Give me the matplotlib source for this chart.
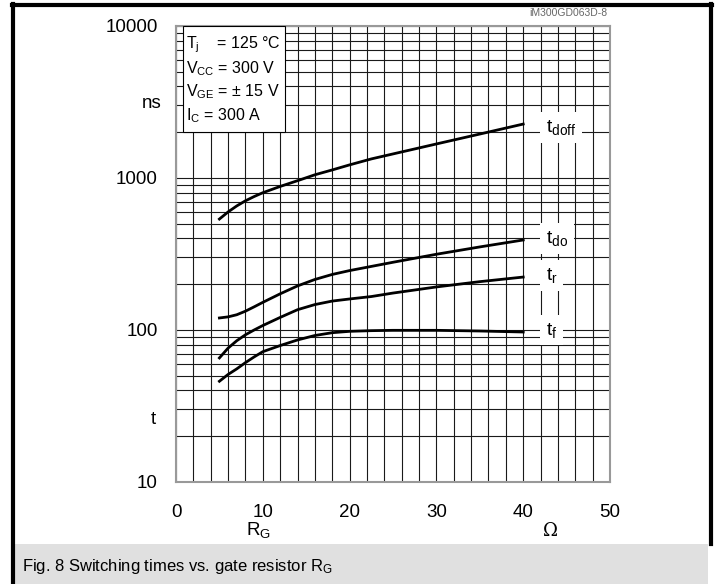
import numpy as np
import matplotlib
matplotlib.use('Agg')
import matplotlib.pyplot as plt
from matplotlib.patches import Rectangle
from matplotlib.lines import Line2D

plt.rcParams['font.family'] = ['Liberation Sans', 'DejaVu Sans']
plt.rcParams['mathtext.fontset'] = 'custom'
plt.rcParams['mathtext.rm'] = 'Liberation Sans'
plt.rcParams['mathtext.it'] = 'Liberation Sans:italic'

# switching times (R_G in ohm, t in ns)
rg = [5, 6, 7, 8, 9, 10, 12, 14, 16, 18, 20, 22.5, 25, 30, 35, 40]
t_doff = [537, 598, 655, 708, 755, 800, 880, 960, 1050, 1130, 1220, 1335, 1440, 1675, 1946, 2264]
t_do = [120, 122, 126, 133, 142, 152, 173, 195, 215, 232, 246, 262, 279, 315, 352, 391]
t_r = [65.5, 76, 85, 93, 100, 107, 121, 136, 147, 155, 160, 166, 175, 192, 208, 223]
t_f = [46, 51, 55.5, 61, 66.5, 72, 79, 86, 92, 96, 98, 99, 99.5, 99.5, 98.5, 97]

curve_names = [r'$\mathrm{t_{doff}}$', r'$\mathrm{t_{do}}$', r'$\mathrm{t_r}$', r'$\mathrm{t_f}$']
label_y = [2150, 400, 228, 100]

conditions = [r'$\mathrm{T_j}$    = 125 °C',
              r'$\mathrm{V_{CC}}$ = 300 V',
              r'$\mathrm{V_{GE}}$ = ± 15 V',
              r'$\mathrm{I_C}$ = 300 A']

fig = plt.figure(figsize=(7.16, 5.84), dpi=100)
W, H = 716, 584

# outer frame and caption band
fig.add_artist(Line2D([13 / W, 13 / W], [0, 1 - 4 / H], color='black', lw=3))
fig.add_artist(Line2D([12 / W, 712 / W], [1 - 5 / H, 1 - 5 / H], color='black', lw=3))
fig.add_artist(Line2D([711 / W, 711 / W], [1 - 4 / H, 1 - 544 / H], color='black', lw=3))
fig.add_artist(Rectangle((14 / W, 0), 694 / W, 40 / H, facecolor='#e0e0e0',
                         edgecolor='none'))
fig.text(22 / W, 1 - 566 / H, r'Fig. 8 Switching times vs. gate resistor R$_\mathrm{G}$',
         fontsize=12, va='center', ha='left')

ax = fig.add_axes([176 / W, 1 - 482 / H, 434 / W, 456 / H])
ax.set_yscale('log')
ax.set_xlim(0, 50)
ax.set_ylim(10, 10000)
ax.set_xticks(range(0, 51, 10))
ax.set_xticks(range(0, 51, 2), minor=True)
ax.set_yticks([10, 100, 1000, 10000])
ax.set_yticklabels(['10', '100', '1000', '10000'])
ax.grid(True, which='both', color='#1a1a1a', lw=0.8)
ax.tick_params(which='both', length=0)
ax.tick_params(axis='x', pad=16, labelsize=13.5)
ax.tick_params(axis='y', pad=13, labelsize=13.5)
ax.minorticks_on()
ax.yaxis.set_minor_formatter(matplotlib.ticker.NullFormatter())
for s in ax.spines.values():
    s.set_color('#999999')
    s.set_linewidth(1.5)
ax.set_axisbelow(True)

for ys in [t_doff, t_do, t_r, t_f]:
    ax.plot(rg, ys, color='black', lw=2, zorder=3)

for name, yv in zip(curve_names, label_y):
    ax.text(42.6, yv, name, fontsize=14, va='center', ha='left', zorder=4,
            bbox=dict(facecolor='white', edgecolor='none', pad=4))

# condition box
ax.add_patch(Rectangle((0.8, 10 ** (4 - 106 / 152)), 11.8, 10000 - 10 ** (4 - 106 / 152),
                       facecolor='white', edgecolor='black', lw=0.8, zorder=4))
for i, line in enumerate(conditions):
    ax.text(1.1, 10 ** (4 - (19 + 23.5 * i) / 152), line, fontsize=11.5,
            va='center', ha='left', zorder=5)

fig.text(152 / W, 1 - 103 / H, 'ns', fontsize=13.5, ha='center', va='center')
fig.text(153 / W, 1 - 420 / H, 't', fontsize=13.5, ha='center', va='center')
fig.text(258 / W, 1 - 530 / H, r'R$_\mathrm{G}$', fontsize=13.5, ha='center', va='center')
fig.text(550 / W, 1 - 531 / H, 'Ω', fontsize=13, ha='center', va='center',
         family='DejaVu Serif')
fig.text(607 / W, 1 - 13 / H, 'iM300GD063D-8', fontsize=7.5, color='#666666',
         ha='right', va='center')

fig.savefig('out.png', dpi=100)
